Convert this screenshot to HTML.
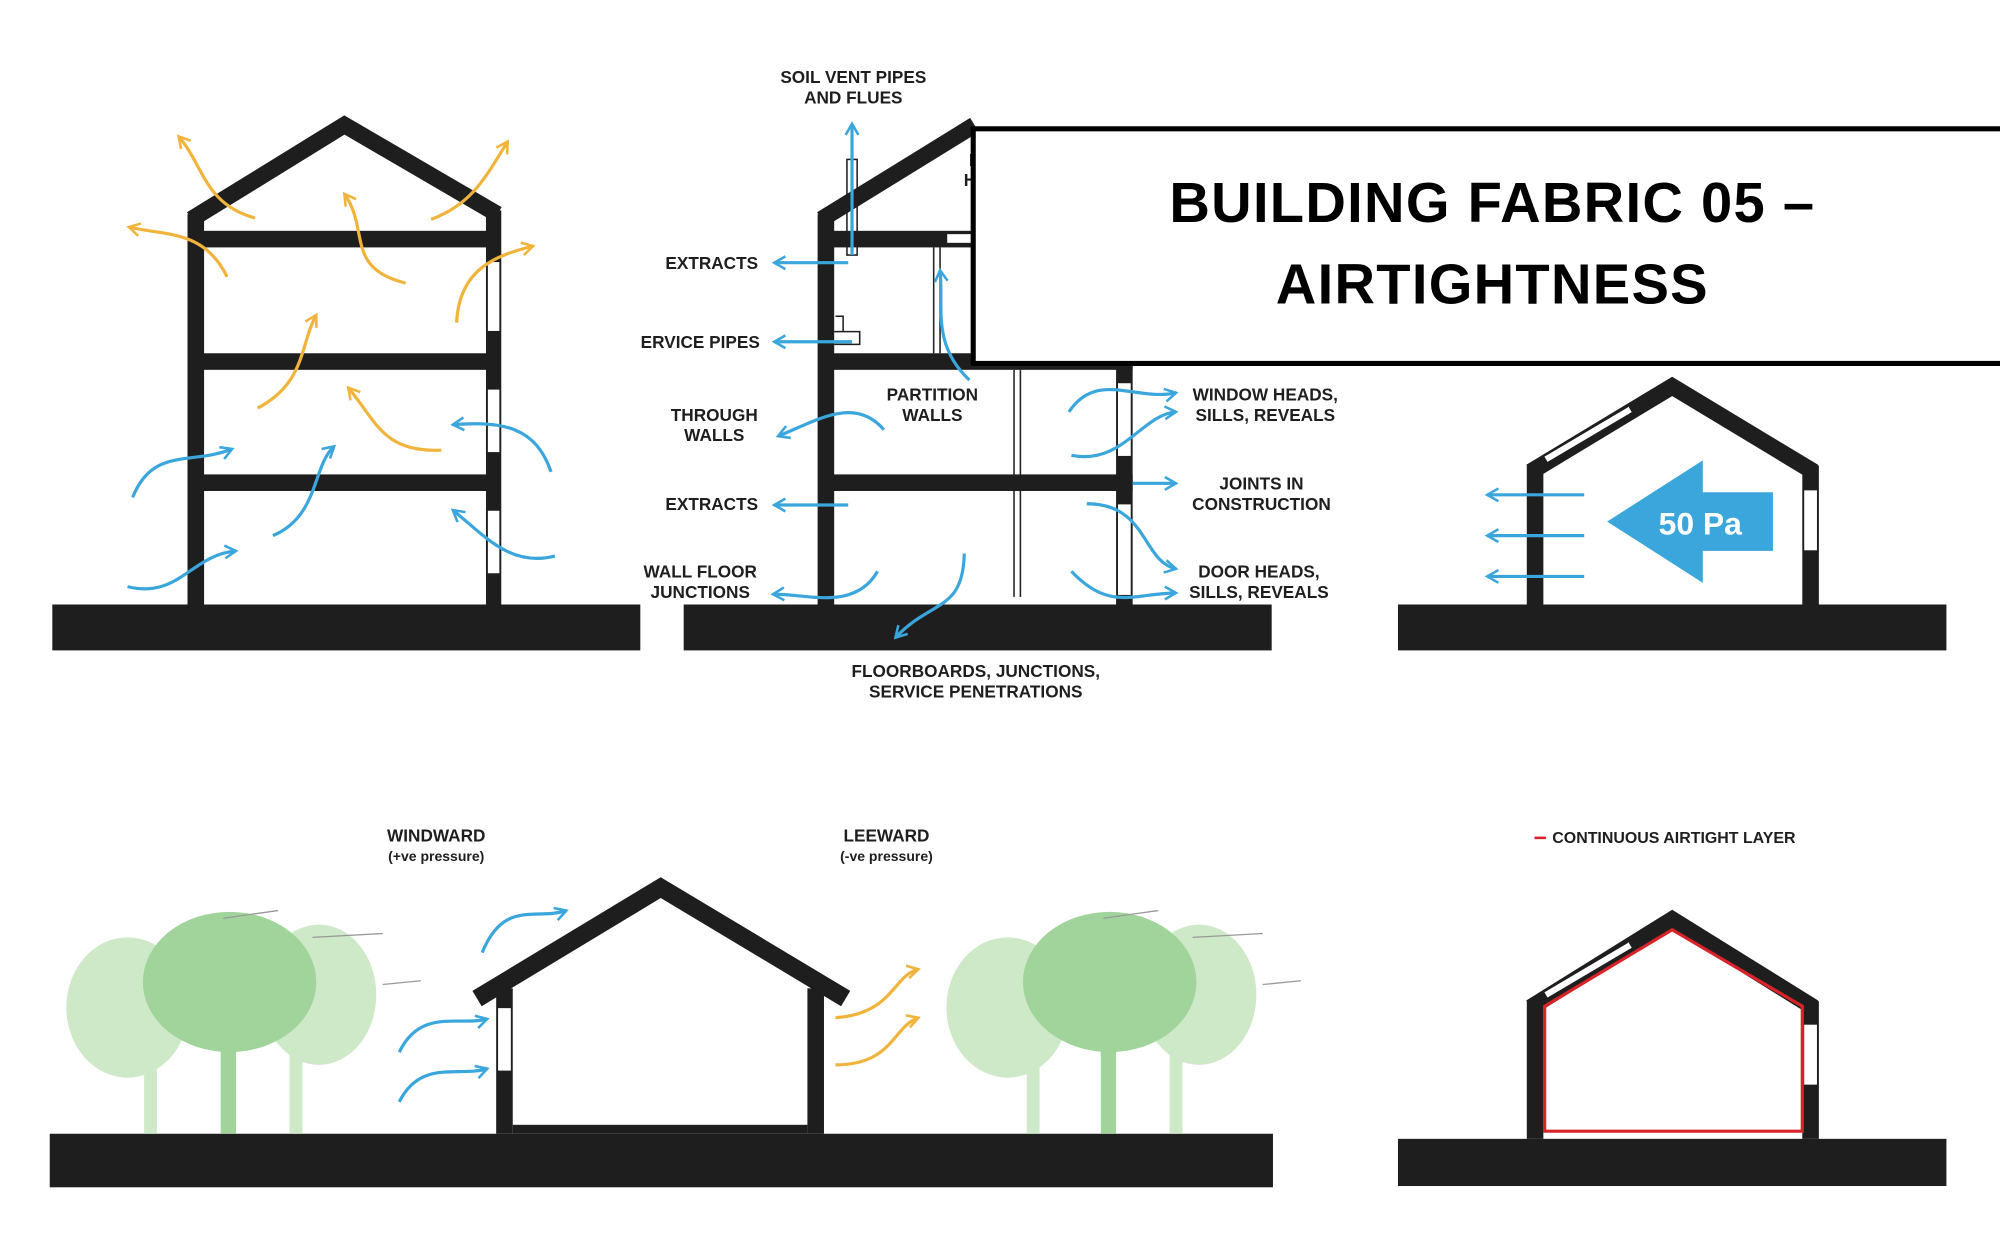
<!DOCTYPE html>
<html><head><meta charset="utf-8"><style>
html,body{margin:0;padding:0;background:#fff;}
svg{display:block;}
text{font-family:"Liberation Sans",sans-serif;font-weight:bold;fill:#1e1e1e;}
</style></head><body>
<svg width="2000" height="1260" viewBox="0 0 1568 988" preserveAspectRatio="none" xmlns="http://www.w3.org/2000/svg">
<defs>
<marker id="ab" viewBox="0 0 10 10" refX="8" refY="5" markerWidth="5" markerHeight="5" orient="auto"><path d="M1 1 L8 5 L1 9" fill="none" stroke="#3aa6dc" stroke-width="1.6"/></marker>
<marker id="ao" viewBox="0 0 10 10" refX="8" refY="5" markerWidth="5" markerHeight="5" orient="auto"><path d="M1 1 L8 5 L1 9" fill="none" stroke="#f0b43c" stroke-width="1.6"/></marker>
</defs>
<g fill="#1e1e1e">
<!-- panel 1 -->
<rect x="41" y="474" width="461" height="36"/>
<rect x="147" y="168" width="13" height="306"/>
<rect x="381" y="165" width="12" height="309"/>
<rect x="153" y="181" width="234" height="13"/>
<rect x="153" y="277" width="234" height="13"/>
<rect x="153" y="372" width="234" height="13"/>
<!-- panel 2 -->
<rect x="536" y="474" width="461" height="36"/>
<rect x="641" y="168" width="13" height="306"/>
<rect x="875" y="285" width="13" height="189"/>
<rect x="647" y="181" width="120" height="13"/>
<rect x="647" y="277" width="241" height="13"/>
<rect x="647" y="372" width="241" height="13"/>
<!-- panel 3 -->
<rect x="1096" y="474" width="430" height="36"/>
<rect x="1197" y="365" width="13" height="109"/>
<rect x="1413" y="365" width="13" height="109"/>
<!-- bottom -->
<rect x="39" y="889" width="959" height="42"/>
<rect x="389" y="775" width="13" height="114"/>
<rect x="633" y="775" width="13" height="114"/>
<rect x="402" y="882" width="231" height="7"/>
<rect x="1096" y="893" width="430" height="37"/>
<rect x="1197" y="785" width="13" height="108"/>
<rect x="1413" y="785" width="13" height="108"/>
</g>
<g fill="none" stroke="#1e1e1e" stroke-linejoin="miter">
<polyline points="150,172 270,98 390,168" stroke-width="13"/>
<polyline points="644,172 764,98" stroke-width="13"/>
<polyline points="1200,370 1311,303 1422,370" stroke-width="13"/>
<polyline points="374,783 518,696 663,783" stroke-width="14"/>
<polyline points="1200,790 1311,721 1422,790" stroke-width="13"/>
</g>
<!-- windows -->
<g fill="#fff" stroke="#1e1e1e" stroke-width="1">
<rect x="382" y="205" width="10" height="55"/><rect x="382" y="305" width="10" height="50"/><rect x="382" y="400" width="10" height="50"/>
<rect x="876" y="300" width="11" height="58"/><rect x="876" y="395" width="11" height="72"/>
<rect x="1414" y="384" width="11" height="48"/><rect x="1414" y="803" width="11" height="48"/>
<rect x="390" y="790" width="11" height="50"/>
</g>
<g stroke="#fff" stroke-width="5"><line x1="1212" y1="360" x2="1278" y2="321"/><line x1="1212" y1="780" x2="1278" y2="741"/></g>
<g stroke="#1e1e1e" stroke-width="1"><line x1="1210" y1="358" x2="1276" y2="319"/><line x1="1210" y1="778" x2="1276" y2="739"/></g>
<!-- partition & pipes -->
<g stroke="#1e1e1e" stroke-width="1.2" fill="none">
<line x1="795" y1="290" x2="795" y2="468"/><line x1="800" y1="290" x2="800" y2="468"/>
<line x1="732" y1="194" x2="732" y2="277"/><line x1="737" y1="194" x2="737" y2="277"/>
<rect x="664" y="125" width="8" height="75"/>
<rect x="742" y="183" width="20" height="8" fill="#fff"/>
<path d="M654 260 h20 v10 h-20 M655 248 h6 v12"/>
</g>
<!-- red airtight -->
<polygon points="1211,789 1311,729 1413,789 1413,887 1211,887" fill="none" stroke="#d8232a" stroke-width="2.5"/>
<line x1="1203" y1="657" x2="1212" y2="657" stroke="#d8232a" stroke-width="2"/>
<!-- trees -->
<g fill="#cde9c8">
<ellipse cx="100" cy="790" rx="48" ry="55"/><rect x="113" y="810" width="10" height="79"/>
<ellipse cx="250" cy="780" rx="45" ry="55"/><rect x="227" y="810" width="10" height="79"/>
<ellipse cx="790" cy="790" rx="48" ry="55"/><rect x="805" y="810" width="10" height="79"/>
<ellipse cx="940" cy="780" rx="45" ry="55"/><rect x="917" y="810" width="10" height="79"/>
</g>
<g fill="#a0d49a">
<ellipse cx="180" cy="770" rx="68" ry="55"/><rect x="173" y="800" width="12" height="89"/>
<ellipse cx="870" cy="770" rx="68" ry="55"/><rect x="863" y="800" width="12" height="89"/>
</g>
<g stroke="#999" stroke-width="1"><line x1="175" y1="720" x2="218" y2="714"/><line x1="245" y1="735" x2="300" y2="732"/><line x1="300" y1="772" x2="330" y2="769"/><line x1="865" y1="720" x2="908" y2="714"/><line x1="935" y1="735" x2="990" y2="732"/><line x1="990" y1="772" x2="1020" y2="769"/></g>
<!-- big arrow -->
<polygon points="1260,409 1335,361 1335,386 1390,386 1390,432 1335,432 1335,457" fill="#3aa6dc"/>
<text x="1333" y="419" font-size="25" style="fill:#fff" text-anchor="middle">50 Pa</text>
<!-- blue arrows -->
<g fill="none" stroke="#3aa6dc" stroke-width="2.5" marker-end="url(#ab)">
<path d="M1242 388 H1166"/><path d="M1242 420 H1166"/><path d="M1242 452 H1166"/>
<path d="M104 390 C120 350 150 365 182 352"/><path d="M100 460 C140 470 150 435 185 432"/>
<path d="M214 420 C250 405 245 365 262 350"/>
<path d="M432 370 C420 335 395 330 355 333"/><path d="M435 436 C400 445 380 420 355 400"/>
<path d="M668 200 V97"/><path d="M665 206 H607"/><path d="M668 268 H607"/>
<path d="M693 337 C670 310 640 330 610 342"/><path d="M665 396 H607"/>
<path d="M688 448 C670 480 630 465 606 466"/>
<path d="M760 298 C730 270 740 240 737 212"/>
<path d="M756 434 C755 480 730 470 702 500"/>
<path d="M838 323 C860 290 890 315 922 308"/><path d="M840 357 C880 365 895 325 922 323"/>
<path d="M888 379 H922"/><path d="M852 395 C900 395 895 440 922 446"/>
<path d="M840 448 C870 480 890 465 922 465"/>
<path d="M378 747 C395 705 420 722 444 714"/>
<path d="M313 825 C330 790 360 805 382 799"/><path d="M313 864 C330 830 360 845 382 838"/>
</g>
<g fill="none" stroke="#f0b43c" stroke-width="2.5" marker-end="url(#ao)">
<path d="M200 171 C160 160 160 130 140 107"/><path d="M178 217 C160 180 130 185 101 178"/>
<path d="M338 172 C370 160 380 140 398 111"/><path d="M358 253 C360 210 390 200 418 193"/>
<path d="M318 222 C270 210 290 180 270 152"/><path d="M202 320 C240 300 235 270 248 247"/>
<path d="M346 353 C300 355 295 330 273 304"/>
<path d="M655 798 C700 795 700 765 720 760"/><path d="M655 835 C700 835 700 805 720 798"/>
</g>
<!-- labels -->
<g font-size="13.5" text-anchor="middle">
<text x="669" y="65">SOIL VENT PIPES</text><text x="669" y="81">AND FLUES</text>
<text x="558" y="211">EXTRACTS</text><text x="549" y="273">ERVICE PIPES</text>
<text x="560" y="330">THROUGH</text><text x="560" y="346">WALLS</text>
<text x="731" y="314">PARTITION</text><text x="731" y="330">WALLS</text>
<text x="558" y="400">EXTRACTS</text>
<text x="549" y="453">WALL FLOOR</text><text x="549" y="469">JUNCTIONS</text>
<text x="765" y="531">FLOORBOARDS, JUNCTIONS,</text><text x="765" y="547">SERVICE PENETRATIONS</text>
<text x="992" y="314">WINDOW HEADS,</text><text x="992" y="330">SILLS, REVEALS</text>
<text x="989" y="384">JOINTS IN</text><text x="989" y="400">CONSTRUCTION</text>
<text x="987" y="453">DOOR HEADS,</text><text x="987" y="469">SILLS, REVEALS</text>
<text x="342" y="660">WINDWARD</text><text x="342" y="675" font-size="11">(+ve pressure)</text>
<text x="695" y="660">LEEWARD</text><text x="695" y="675" font-size="11">(-ve pressure)</text>
<text x="769" y="130">LO</text><text x="769" y="146">HAT</text>
</g>
<text x="1217" y="661" font-size="12.5">CONTINUOUS AIRTIGHT LAYER</text>
<!-- title -->
<rect x="763" y="101" width="820" height="184" fill="#fff" stroke="#000" stroke-width="4"/>
<g font-size="44" text-anchor="middle" style="letter-spacing:1px"><text x="1170" y="174" style="fill:#000">BUILDING FABRIC 05 –</text><text x="1170" y="238" style="fill:#000">AIRTIGHTNESS</text></g>
</svg>
</body></html>
